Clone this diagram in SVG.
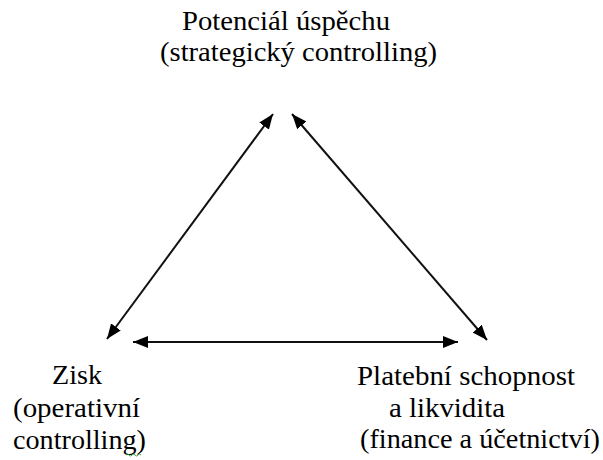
<svg xmlns="http://www.w3.org/2000/svg" width="603" height="460" viewBox="0 0 603 460">
  <style>
    .lbl { font-family: "Liberation Serif", "Times New Roman", serif; font-size: 27px; fill: #000; }
    .conn { stroke: #111; stroke-width: 2; fill: none; marker-start: url(#head); marker-end: url(#head); }
  </style>
  <defs>
    <!-- filled triangular arrowhead used at both ends of every connector -->
    <marker id="head" viewBox="0 0 15 12" refX="15" refY="6" markerWidth="15" markerHeight="12" markerUnits="userSpaceOnUse" orient="auto-start-reverse">
      <path d="M0,0 L15,6 L0,12 z" fill="#000"/>
    </marker>
  </defs>
  <rect width="603" height="460" fill="#fff"/>

  <g id="connectors">
    <line class="conn" x1="107" y1="339" x2="273" y2="114"/>
    <line class="conn" x1="292" y1="114" x2="487" y2="340"/>
    <line class="conn" x1="133" y1="342" x2="458" y2="342"/>
  </g>

  <g id="node-potencial">
    <text class="lbl" x="182" y="30" textLength="208" lengthAdjust="spacingAndGlyphs">Potenciál úspěchu</text>
    <text class="lbl" x="160" y="61" textLength="277" lengthAdjust="spacingAndGlyphs">(strategický controlling)</text>
  </g>

  <g id="node-zisk">
    <text class="lbl" x="52" y="384" textLength="50" lengthAdjust="spacingAndGlyphs">Zisk</text>
    <text class="lbl" x="13" y="417" textLength="127" lengthAdjust="spacingAndGlyphs">(operativní</text>
    <text class="lbl" x="13" y="449" textLength="133" lengthAdjust="spacingAndGlyphs">controlling)</text>
    <!-- spell-check squiggle under the last word -->
    <path d="M126,455 q1.5,-2 3,0 t3,0 t3,0 t3,0 t3,0" stroke="#3c9a3c" stroke-width="1" fill="none"/>
  </g>

  <g id="node-platebni">
    <text class="lbl" x="357" y="385" textLength="218" lengthAdjust="spacingAndGlyphs">Platební schopnost</text>
    <text class="lbl" x="389" y="417" textLength="116" lengthAdjust="spacingAndGlyphs">a likvidita</text>
    <text class="lbl" x="360" y="448" textLength="240" lengthAdjust="spacingAndGlyphs">(finance a účetnictví)</text>
  </g>
</svg>
